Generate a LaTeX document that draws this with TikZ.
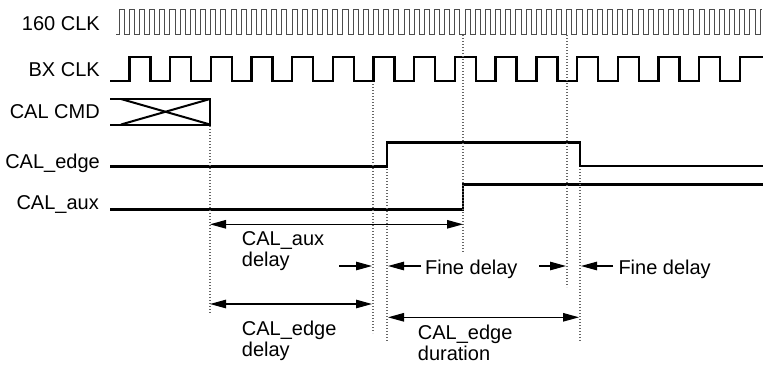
\documentclass[tikz,border=0pt]{standalone}
\usepackage{fontspec}
\setmainfont{Liberation Sans}
\usetikzlibrary{arrows.meta}
\begin{document}
\begin{tikzpicture}[x=1pt,y=-1pt,
  lbl/.style={inner sep=0pt, font=\fontsize{20}{21}\selectfont, align=left},
  thinclk/.style={line width=1pt, black!70, line join=miter},
  sig/.style={line width=2.4pt, black, line join=miter},
  guide/.style={line width=1.1pt, black!60, dash pattern=on 1.1pt off 1.9pt},
  dim/.style={line width=1.1pt, black},
  tipR/.style={-{Triangle[length=16pt,width=8.5pt]}},
  tipB/.style={{Triangle[length=16pt,width=8.5pt]}-{Triangle[length=16pt,width=8.5pt]}}]
\useasboundingbox (0,0) rectangle (763,365);

% labels
\node[lbl, anchor=base east] (l160) at (100,30.7) {160 CLK};
\node[lbl, anchor=base east] (lbx) at (100,76.7) {BX CLK};
\node[lbl, anchor=base east] (lcmd) at (100,118.3) {CAL CMD};
\node[lbl, anchor=base east] (ledge) at (100,168.5) {CAL\_edge};
\node[lbl, anchor=base east] (laux) at (99,209) {CAL\_aux};

% 160 CLK
\draw[thinclk] (116,34) foreach \k in {0,...,62} {
  -- ({119.1+\k*10.175},34) -- ({119.1+\k*10.175},9)
  -- ({124.19+\k*10.175},9) -- ({124.19+\k*10.175},34) }
  -- (760.1,34) -- (760.1,9) -- (762,9);

% BX CLK
\draw[sig] (110,81) foreach \n in {0,...,14} {
  -- ({129.3+\n*40.7},81) -- ({129.3+\n*40.7},57)
  -- ({150.3+\n*40.7},57) -- ({150.3+\n*40.7},81) }
  -- (739.8,81) -- (739.8,57) -- (763,57);

% CAL CMD
\draw[sig, line width=2pt] (110,99) -- (210,99) -- (210,124.5) -- (110,124.5);
\draw[sig, line width=2pt] (121,99) -- (210,124.5);
\draw[sig, line width=2pt] (121,124.5) -- (210,99);

% CAL_edge
\draw[sig] (110,166.5) -- (387,166.5) -- (387,142.5) -- (580,142.5) -- (580,166) -- (763,166);
% CAL_aux
\draw[sig] (110,209.3) -- (463,209.3) -- (463,184.3) -- (763,184.3);

% guides
\draw[guide] (210,126) -- (210,313);
\draw[guide] (373,84) -- (373,333);
\draw[guide] (463,35) -- (463,252);
\draw[guide] (567,35) -- (567,287);
\draw[guide] (387,169) -- (387,342);
\draw[guide] (580,169) -- (580,342);

% dimension arrows
\coordinate (a1) at (210,224.3); \coordinate (a2) at (463,224.3);
\draw[dim, tipB] (a1) -- (a2);
\node[lbl, anchor=base west] (tAux) at (241.7,266.7) {CAL\_aux\\delay};

\coordinate (f1) at (339,266); \coordinate (f2) at (372,266);
\draw[dim, tipR] (f1) -- (f2);
\coordinate (f3) at (421,266); \coordinate (f4) at (388,266);
\draw[dim, tipR] (f3) -- (f4);
\node[lbl, anchor=base west] (tFine1) at (425,274) {Fine delay};
\coordinate (f5) at (539,266); \coordinate (f6) at (566,266);
\draw[dim, tipR] (f5) -- (f6);
\coordinate (f7) at (613,266); \coordinate (f8) at (581,266);
\draw[dim, tipR] (f7) -- (f8);
\node[lbl, anchor=base west] (tFine2) at (618.3,274) {Fine delay};

\coordinate (e1) at (210,304); \coordinate (e2) at (372,304);
\draw[dim, tipB] (e1) -- (e2);
\node[lbl, anchor=base west] (tEdge) at (241.7,356.7) {CAL\_edge\\delay};

\coordinate (d1) at (388,317.3); \coordinate (d2) at (579,317.3);
\draw[dim, tipB] (d1) -- (d2);
\node[lbl, anchor=base west] (tDur) at (417.7,360) {CAL\_edge\\duration};
\end{tikzpicture}
\end{document}
